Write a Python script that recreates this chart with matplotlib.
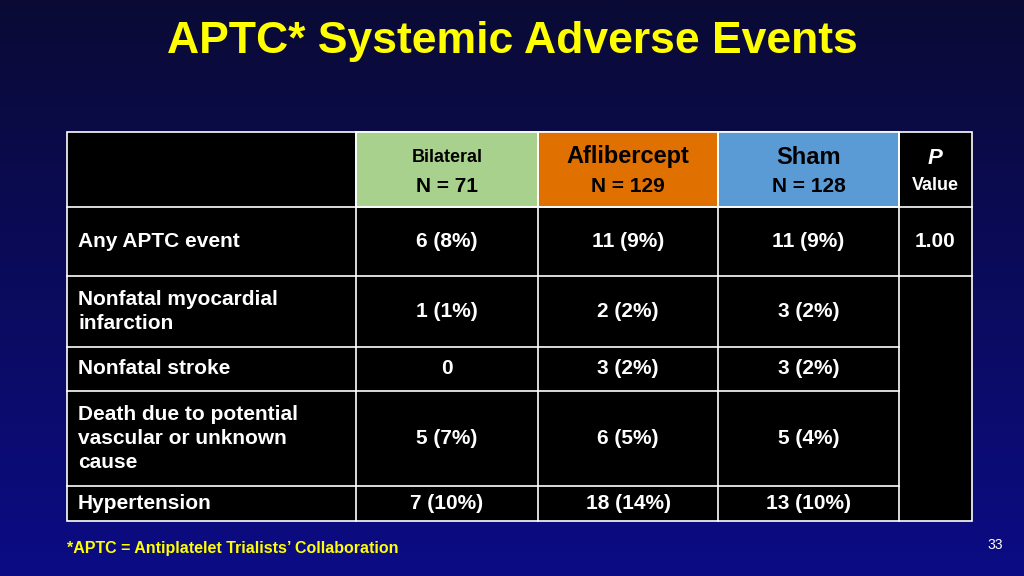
import numpy as np
import matplotlib.pyplot as plt
from matplotlib.patches import Rectangle

plt.rcParams["font.family"] = "Liberation Sans"

title = "APTC* Systemic Adverse Events"
footnote = "*APTC = Antiplatelet Trialists\u2019 Collaboration"
page_no = "33"

groups = ["Bilateral", "Aflibercept", "Sham"]
group_n = ["N = 71", "N = 129", "N = 128"]
group_colors = ["#a9d18e", "#e07000", "#5b9bd5"]

row_labels = ["Any APTC event", "Nonfatal myocardial\ninfarction", "Nonfatal stroke",
              "Death due to potential\nvascular or unknown\ncause", "Hypertension"]
bilateral = ["6 (8%)", "1 (1%)", "0", "5 (7%)", "7 (10%)"]
aflibercept = ["11 (9%)", "2 (2%)", "3 (2%)", "6 (5%)", "18 (14%)"]
sham = ["11 (9%)", "3 (2%)", "3 (2%)", "5 (4%)", "13 (10%)"]
p_value = "1.00"

fig = plt.figure(figsize=(10.24, 5.76), dpi=100)
bg = fig.add_axes([0, 0, 1, 1])
grad = np.linspace(0, 1, 256).reshape(-1, 1)
bg.imshow(grad, aspect="auto", extent=[0, 1024, 576, 0],
          cmap=plt.matplotlib.colors.LinearSegmentedColormap.from_list("b", ["#0a0a35", "#0c0c85"]))
bg.set_xlim(0, 1024)
bg.set_ylim(576, 0)
bg.axis("off")

xs = [67, 356, 538, 718, 899, 972]
ys = [132, 207, 276, 347, 391, 486, 521]
lw = 1.2
bg.add_patch(Rectangle((xs[0], ys[0]), xs[-1] - xs[0], ys[-1] - ys[0], fc="black", ec="white", lw=lw))
for i, c in enumerate(group_colors):
    bg.add_patch(Rectangle((xs[i + 1], ys[0]), xs[i + 2] - xs[i + 1], ys[1] - ys[0], fc=c, ec="white", lw=lw))
for x in xs[1:-1]:
    bg.plot([x, x], [ys[0], ys[-1]], color="white", lw=lw)
for j, y in enumerate(ys[1:-1]):
    x1 = xs[-1] if j <= 1 else xs[-2]
    bg.plot([xs[0], x1], [y, y], color="white", lw=lw)

bg.text(512, 42, title, color="#ffff00", fontsize=32, fontweight="bold", ha="center", va="center")

sizes = [13, 17, 17]
for i in range(3):
    cx = (xs[i + 1] + xs[i + 2]) / 2
    bg.text(cx, 157, groups[i], fontsize=sizes[i], fontweight="bold", ha="center", va="center")
    bg.text(cx, 187, group_n[i], fontsize=15, fontweight="bold", ha="center", va="center")
cx = (xs[4] + xs[5]) / 2
bg.text(cx, 158, "P", color="white", fontsize=16, fontweight="bold", style="italic", ha="center", va="center")
bg.text(cx, 186, "Value", color="white", fontsize=13, fontweight="bold", ha="center", va="center")

for r in range(5):
    cy = (ys[r + 1] + ys[r + 2]) / 2
    bg.text(78, cy, row_labels[r], color="white", fontsize=15, fontweight="bold",
            ha="left", va="center", linespacing=1.3)
    for i, col in enumerate([bilateral, aflibercept, sham]):
        bg.text((xs[i + 1] + xs[i + 2]) / 2, cy, col[r], color="white", fontsize=15,
                fontweight="bold", ha="center", va="center")
bg.text((xs[4] + xs[5]) / 2, (ys[1] + ys[2]) / 2, p_value, color="white", fontsize=15,
        fontweight="bold", ha="center", va="center")

bg.text(67, 549, footnote, color="#ffff00", fontsize=11.5, fontweight="bold", ha="left", va="center")
bg.text(1003, 545, page_no, color="white", fontsize=10, ha="right", va="center")

fig.savefig("out.png", dpi=100)
